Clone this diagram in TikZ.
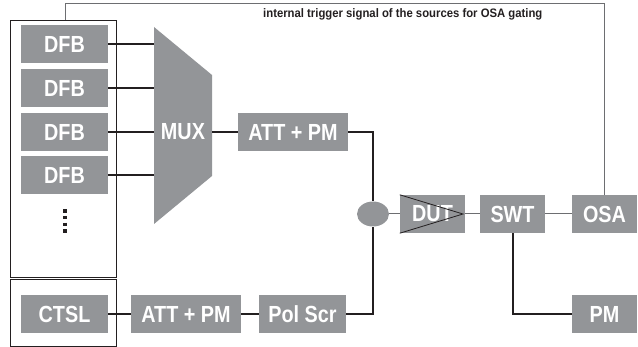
\documentclass[tikz,border=0pt]{standalone}
\usepackage{fontspec}
\usetikzlibrary{shapes.geometric}
\newfontfamily\cond[FakeStretch=0.85]{Liberation Sans}
\newfontfamily\lab[FakeStretch=0.92]{Liberation Sans}
\definecolor{boxgray}{HTML}{939598}
\definecolor{linedark}{HTML}{231F20}
\definecolor{linegray}{HTML}{6D6E71}
\begin{document}
\begin{tikzpicture}[x=1pt,y=-1pt,
  blk/.style={fill=boxgray, draw=none, text=white, inner sep=0pt,
    minimum height=38pt, font=\cond\bfseries\fontsize{23.3}{24}\selectfont},
  wide/.style={blk, minimum width=110pt},
  mid/.style={blk, minimum width=87pt},
  small/.style={blk, minimum width=65pt},
  frame/.style={draw=linedark, line width=0.9pt, inner sep=0pt},
  thick/.style={draw=linedark, line width=2pt},
  thin/.style={draw=linegray, line width=1pt}]
\useasboundingbox (0,0) rectangle (638,347);
% source frames
\node[frame, minimum width=106pt, minimum height=257pt] (srcbox) at (63,148.5) {};
\node[frame, minimum width=106pt, minimum height=67pt] (ctslbox) at (63,312.5) {};
% DFBs
\node[mid] (dfb1) at (64.5,44) {DFB};
\node[mid] (dfb2) at (64.5,88.5) {DFB};
\node[mid] (dfb3) at (64.5,132) {DFB};
\node[mid] (dfb4) at (64.5,175) {DFB};
\draw[linedark, line width=3.4pt, dash pattern=on 3.5pt off 3.2pt] (65,209.3) -- (65,233);
% MUX
\fill[boxgray] (154,27) -- (212,75) -- (212,176) -- (154,224) -- cycle;
\node[inner sep=0pt, minimum width=58pt, minimum height=197pt] (mux) at (183,125.5) {};
\node[text=white, inner sep=0pt, font=\cond\bfseries\fontsize{23.3}{24}\selectfont] (muxt) at (183,132) {MUX};
% chain
\node[wide] (att1) at (293,132) {ATT + PM};
\node[fill=boxgray, ellipse, minimum width=32pt, minimum height=25pt, inner sep=0pt] (cpl) at (373,214) {};
\node[small] (dut) at (432.5,214) {DUT};
\draw[linedark, line width=0.8pt] (dut.north west) -- (463,214) -- (dut.south west);
\node[small] (swt) at (512.5,214) {SWT};
\node[small] (osa) at (604.5,214) {OSA};
\node[small] (pm) at (604.5,314) {PM};
\node[mid] (ctsl) at (64.5,314) {CTSL};
\node[wide] (att2) at (186,314) {ATT + PM};
\node[mid] (pol) at (302.5,314) {Pol Scr};
% connectors
\foreach \i in {1,...,4} \draw[thick] (dfb\i.east) -- (dfb\i.east -| mux.west);
\draw[thick] (mux.east |- att1.west) -- (att1.west);
\draw[thick] (att1.east) -| (cpl.north);
\draw[thick] (ctsl.east) -- (att2.west);
\draw[thick] (att2.east) -- (pol.west);
\draw[thick] (pol.east) -| (cpl.south);
\draw[thin] (cpl.east) -- (dut.west);
\draw[thin] (dut.east) -- (swt.west);
\draw[thin] (swt.east) -- (osa.west);
\draw[thick] (swt.south) |- (pm.west);
% trigger
\coordinate (tl) at (65,4);
\draw[thin] (srcbox.north -| tl) -- (tl) -- (tl -| osa.north) -- (osa.north);
\node[anchor=base west, inner sep=0pt, text=linedark, font=\lab\bfseries\fontsize{12.3}{13}\selectfont] (trig) at (263,18) {internal trigger signal of the sources for OSA gating};
\end{tikzpicture}
\end{document}
